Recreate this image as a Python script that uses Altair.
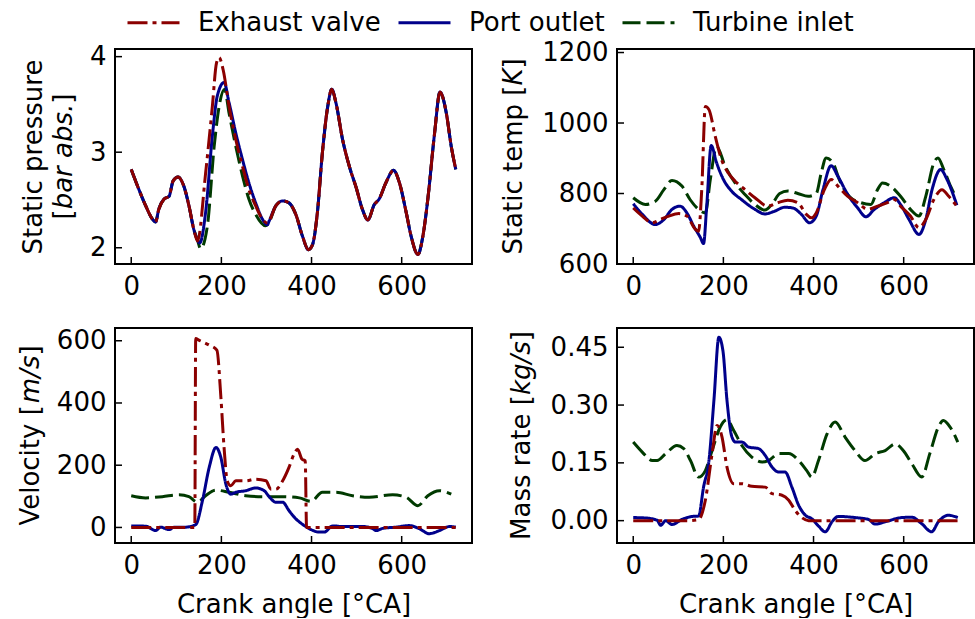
import altair as alt
import pandas as pd

SERIES = ["Exhaust valve", "Port outlet", "Turbine inlet"]
COLORS = ["#8b0000", "#00008b", "#003a00"]
DASHES = [[20, 5, 4, 5], [1, 0], [18, 6]]

X_TICKS = [0, 200, 400, 600]

# ---------------- Static pressure [bar abs.] ----------------
p_ev_x = [0, 17, 32, 47, 54, 61, 73, 84, 93, 104, 117, 128, 139, 147, 165, 180, 189, 195, 204, 217, 232, 247, 261, 276, 291, 302,
          306, 321, 336, 350, 365, 380, 393, 402, 413, 424, 436, 445, 454, 469, 484, 499, 513, 525, 539, 550, 565, 582, 595, 610, 621, 636, 647, 658, 673, 685, 699, 710, 720]
p_ev_y = [2.82, 2.61, 2.44, 2.30, 2.27, 2.40, 2.51, 2.54, 2.70, 2.74, 2.64, 2.44, 2.19, 2.07, 2.78, 3.48, 3.93, 3.99, 3.86, 3.48, 3.13, 2.85, 2.61, 2.44, 2.30, 2.26,
          2.28, 2.44, 2.49, 2.47, 2.35, 2.12, 1.98, 2.03, 2.37, 2.99, 3.48, 3.66, 3.52, 3.13, 2.85, 2.63, 2.40, 2.29, 2.45, 2.51, 2.68, 2.81, 2.68, 2.37, 2.12, 1.93, 2.12, 2.51, 3.20, 3.63, 3.41, 3.06, 2.82]
p_po_x = [0, 17, 32, 47, 54, 61, 73, 84, 93, 104, 117, 128, 139, 147, 152, 165, 180, 191, 206, 217, 232, 247, 261, 276, 291, 302,
          306, 321, 336, 350, 365, 380, 393, 402, 413, 424, 436, 445, 454, 469, 484, 499, 513, 525, 539, 550, 565, 582, 595, 610, 621, 636, 647, 658, 673, 685, 699, 710, 720]
p_po_y = [2.82, 2.61, 2.44, 2.30, 2.27, 2.40, 2.51, 2.54, 2.70, 2.74, 2.64, 2.44, 2.19, 2.08, 2.05, 2.37, 3.17, 3.59, 3.73, 3.52, 3.20, 2.92, 2.68, 2.47, 2.30, 2.24,
          2.28, 2.44, 2.49, 2.47, 2.35, 2.12, 1.98, 2.03, 2.37, 2.99, 3.48, 3.66, 3.52, 3.13, 2.85, 2.63, 2.40, 2.29, 2.45, 2.51, 2.68, 2.81, 2.68, 2.37, 2.12, 1.93, 2.12, 2.51, 3.20, 3.63, 3.41, 3.06, 2.82]
p_ti_x = [0, 17, 32, 47, 54, 61, 73, 84, 93, 104, 117, 128, 139, 147, 154, 169, 184, 195, 207, 217, 232, 247, 261, 276, 298,
          306, 321, 336, 350, 365, 380, 393, 402, 413, 424, 436, 445, 454, 469, 484, 499, 513, 525, 539, 550, 565, 582, 595, 610, 621, 636, 647, 658, 673, 685, 699, 710, 720]
p_ti_y = [2.82, 2.61, 2.44, 2.30, 2.27, 2.40, 2.51, 2.54, 2.70, 2.74, 2.64, 2.44, 2.19, 2.08, 1.99, 2.23, 3.06, 3.48, 3.66, 3.41, 3.06, 2.75, 2.51, 2.35, 2.23,
          2.27, 2.44, 2.49, 2.47, 2.35, 2.12, 1.98, 2.03, 2.37, 2.99, 3.48, 3.66, 3.52, 3.13, 2.85, 2.63, 2.40, 2.29, 2.45, 2.51, 2.68, 2.81, 2.68, 2.37, 2.12, 1.93, 2.12, 2.51, 3.20, 3.63, 3.41, 3.06, 2.82]

# ---------------- Static temp [K] ----------------
t_ev_x = [0, 20, 42, 60, 79, 101, 119, 138, 145, 152, 160, 168, 182, 196, 211, 226, 248, 270, 299, 321, 343, 365, 384, 395, 406, 424, 439, 454, 476, 498, 520, 542, 564, 579, 593, 615, 634, 649, 667, 685, 700, 718]
t_ev_y = [759, 736, 717, 726, 736, 743, 736, 698, 693, 811, 1047, 1038, 962, 896, 858, 835, 811, 788, 764, 774, 781, 774, 741, 731, 745, 811, 840, 821, 792, 774, 755, 764, 774, 783, 764, 736, 703, 726, 783, 811, 792, 764]
t_po_x = [0, 20, 49, 68, 86, 104, 119, 134, 149, 156, 163, 173, 185, 200, 218, 240, 270, 292, 314, 336, 354, 373, 391, 406, 421, 439, 454, 476, 498, 516, 535, 557, 579, 593, 612, 634, 649, 663, 682, 696, 718]
t_po_y = [771, 741, 712, 726, 755, 764, 745, 708, 675, 658, 764, 936, 887, 840, 807, 783, 755, 742, 750, 761, 759, 741, 717, 736, 811, 879, 849, 797, 759, 734, 755, 774, 788, 769, 726, 684, 726, 811, 868, 840, 767]
t_ti_x = [0, 27, 49, 68, 86, 108, 126, 145, 160, 171, 185, 204, 226, 248, 270, 292, 310, 325, 343, 365, 388, 406, 417, 428, 443, 457, 479, 505, 527, 542, 553, 571, 593, 615, 634, 649, 667, 676, 689, 704, 715]
t_ti_y = [788, 769, 778, 811, 837, 821, 783, 755, 745, 840, 934, 877, 830, 797, 769, 753, 774, 800, 807, 800, 792, 800, 858, 901, 887, 840, 792, 774, 769, 811, 830, 821, 792, 755, 736, 792, 887, 901, 868, 821, 792]

# ---------------- Velocity [m/s] ----------------
v_ev_x = [0, 60, 120, 141, 143, 150, 173, 190, 199, 206, 213, 221, 232, 254, 276, 299, 310, 321, 336, 350, 361, 369, 379, 386, 389, 450, 550, 650, 720]
v_ev_y = [0, 0, 0, 0, 607, 602, 586, 570, 416, 256, 150, 134, 150, 150, 155, 150, 123, 123, 150, 193, 235, 251, 219, 214, 0, 0, 0, 0, 0]
v_po_x = [0, 32, 54, 65, 84, 95, 121, 143, 158, 173, 188, 199, 210, 221, 232, 254, 276, 295, 306, 321, 336, 350, 365, 380, 399, 417, 428, 447, 469, 513, 536, 543, 558, 587, 617, 639, 661, 684, 706, 720]
v_po_y = [5, 4, -10, 1, -7, 1, 1, 9, 86, 193, 257, 224, 139, 107, 113, 118, 127, 118, 99, 81, 81, 54, 28, 10, -7, -15, -15, 5, 3, 3, -4, -10, -3, 1, 6, -4, -20, -10, 3, 1]
v_ti_x = [0, 32, 69, 106, 128, 147, 165, 187, 217, 254, 291, 336, 373, 399, 424, 454, 491, 528, 580, 610, 636, 658, 684, 710]
v_ti_y = [102, 95, 99, 105, 99, 81, 102, 120, 113, 102, 99, 99, 95, 84, 113, 113, 102, 97, 105, 97, 70, 102, 118, 107]

# ---------------- Mass rate [kg/s] ----------------
m_ev_x = [0, 60, 120, 145, 160, 175, 186, 197, 208, 223, 241, 263, 293, 308, 330, 345, 359, 374, 389, 450, 550, 650, 720]
m_ev_y = [0, 0, 0, 0.003, 0.053, 0.174, 0.247, 0.217, 0.139, 0.096, 0.096, 0.089, 0.087, 0.070, 0.066, 0.053, 0.027, 0.008, 0, 0, 0, 0, 0]
m_po_x = [0, 27, 53, 61, 72, 86, 108, 131, 145, 156, 168, 179, 190, 199, 208, 219, 227, 241, 256, 278, 293, 308, 323, 337, 352, 367, 382, 396, 411, 426, 441, 455, 492, 522, 537, 559, 596, 618, 640, 662, 677, 699, 720]
m_po_y = [0.008, 0.007, 0.001, -0.012, 0.0, -0.01, 0.003, 0.011, 0.012, 0.087, 0.156, 0.312, 0.476, 0.441, 0.312, 0.217, 0.204, 0.204, 0.191, 0.187, 0.169, 0.139, 0.126, 0.126, 0.087, 0.040, 0.014, 0.005, -0.014, -0.029, -0.003, 0.011, 0.008, 0.003, -0.009, -0.003, 0.008, 0.009, -0.008, -0.029, -0.003, 0.014, 0.008]
m_ti_x = [0, 20, 42, 53, 72, 97, 112, 127, 145, 160, 175, 193, 208, 223, 241, 263, 286, 300, 323, 345, 367, 385, 396, 411, 430, 448, 470, 492, 514, 537, 559, 581, 599, 618, 640, 658, 677, 688, 703, 720]
m_ti_y = [0.204, 0.178, 0.156, 0.156, 0.174, 0.195, 0.187, 0.156, 0.113, 0.130, 0.182, 0.243, 0.262, 0.234, 0.195, 0.165, 0.152, 0.156, 0.174, 0.174, 0.156, 0.130, 0.113, 0.156, 0.225, 0.256, 0.217, 0.182, 0.156, 0.174, 0.182, 0.199, 0.182, 0.148, 0.113, 0.174, 0.243, 0.260, 0.243, 0.204]

# y-axis titles: (text, italic) segments per line
TITLE_P = [[("Static pressure", False)], [("[", False), ("bar abs.", True), ("]", False)]]
TITLE_T = [[("Static temp [", False), ("K", True), ("]", False)]]
TITLE_V = [[("Velocity [", False), ("m/s", True), ("]", False)]]
TITLE_M = [[("Mass rate [", False), ("kg/s", True), ("]", False)]]

W, H = 357, 215
TICK_LEN = 7
FS = 26
LABEL_PAD = 9
LINE_H = 30

# DejaVu Sans advance widths (per 1000 em), used only to place title pieces
ADV = {" ": 318, ".": 318, "/": 337, "[": 390, "]": 390, "a": 613, "b": 635, "c": 550, "e": 615,
       "g": 635, "i": 278, "k": 579, "l": 278, "m": 974, "o": 612, "p": 635, "r": 411, "s": 521,
       "t": 392, "y": 592, "u": 634, "K": 656, "M": 863, "S": 635, "V": 684}
DIGIT = 636


def text_w(s):
    return sum(ADV.get(c, DIGIT) for c in s) * FS / 1000.0


legend = alt.Legend(
    orient="none", legendX=11, legendY=-54, direction="horizontal", title=None,
    symbolType="stroke", symbolSize=2704, symbolStrokeWidth=3,
    labelFontSize=FS, labelFont="DejaVu Sans", labelColor="black", labelOffset=17,
    columnPadding=11, labelLimit=0, padding=0,
)


def frame(ev, po, ti):
    rows = []
    for name, (xs, ys) in (("Turbine inlet", ti), ("Port outlet", po), ("Exhaust valve", ev)):
        for a, v in zip(xs, ys):
            rows.append({"angle": a, "value": v, "series": name})
    return pd.DataFrame(rows)


def title_layers(lines, x_anchor):
    out = []
    n = len(lines)
    for li, segs in enumerate(lines):
        x = x_anchor - (n - 1 - li) * LINE_H
        total = sum(text_w(t) for t, _ in segs)
        pos = H / 2 + total / 2
        for t, ital in segs:
            out.append(
                alt.Chart(pd.DataFrame({"t": [t]})).mark_text(
                    angle=270, align="left", baseline="bottom", font="DejaVu Sans",
                    fontSize=FS, fontStyle="italic" if ital else "normal", color="black",
                ).encode(text="t:N", x=alt.value(x), y=alt.value(pos))
            )
            pos -= text_w(t)
    return out


def panel(df, ydomain, yticks, title, yfmt, xtitle, title_pad):
    xenc = alt.X("angle:Q", scale=alt.Scale(domain=[-36, 756], nice=False, zero=False),
                 axis=alt.Axis(values=X_TICKS, title=xtitle, format="d"))
    yenc = alt.Y("value:Q", scale=alt.Scale(domain=ydomain, nice=False, zero=False),
                 axis=alt.Axis(values=yticks, title=None, format=yfmt))
    lines = alt.Chart(df).mark_line(strokeWidth=3, interpolate="monotone", clip=True).encode(
        x=xenc, y=yenc,
        color=alt.Color("series:N", scale=alt.Scale(domain=SERIES, range=COLORS), legend=legend),
        strokeDash=alt.StrokeDash("series:N", scale=alt.Scale(domain=SERIES, range=DASHES), legend=legend),
    )
    yt = alt.Chart(pd.DataFrame({"value": yticks})).mark_rule(color="black", strokeWidth=1.5).encode(
        y=yenc, x=alt.value(0), x2=alt.value(TICK_LEN))
    xt = alt.Chart(pd.DataFrame({"angle": X_TICKS})).mark_rule(color="black", strokeWidth=1.5).encode(
        x=xenc, y=alt.value(H), y2=alt.value(H - TICK_LEN))
    fmt = (lambda v: f"{v:.2f}") if yfmt == ".2f" else (lambda v: f"{int(v)}")
    label_w = max(text_w(fmt(v)) for v in yticks)
    x_anchor = -(label_w + LABEL_PAD + title_pad)
    return alt.layer(lines, yt, xt, *title_layers(title, x_anchor)).properties(width=W, height=H)


tl = panel(frame((p_ev_x, p_ev_y), (p_po_x, p_po_y), (p_ti_x, p_ti_y)),
           [1.83, 4.08], [2, 3, 4], TITLE_P, "d", None, 12)
tr = panel(frame((t_ev_x, t_ev_y), (t_po_x, t_po_y), (t_ti_x, t_ti_y)),
           [600, 1210], [600, 800, 1000, 1200], TITLE_T, "d", None, 15)
bl = panel(frame((v_ev_x, v_ev_y), (v_po_x, v_po_y), (v_ti_x, v_ti_y)),
           [-50, 641], [0, 200, 400, 600], TITLE_V, "d", "Crank angle [°CA]", 12)
br = panel(frame((m_ev_x, m_ev_y), (m_po_x, m_po_y), (m_ti_x, m_ti_y)),
           [-0.058, 0.50], [0, 0.15, 0.30, 0.45], TITLE_M, ".2f", "Crank angle [°CA]", 15)

chart = alt.concat(tl, tr, bl, br, columns=2, spacing={"row": 64, "column": 145}, bounds="flush").resolve_scale(
    color="shared", strokeDash="shared"
).properties(
    padding={"left": 17, "top": -5, "right": 0, "bottom": 0},
    background="white",
).configure_view(
    stroke="black", strokeWidth=2
).configure_axis(
    labelFont="DejaVu Sans", labelFontSize=FS, labelColor="black",
    titleFont="DejaVu Sans", titleFontSize=FS, titleFontWeight="normal", titleColor="black",
    domain=False, ticks=False, tickSize=0, grid=False, labelPadding=LABEL_PAD, minExtent=0,
).configure_axisX(titlePadding=13)

chart.save("out.html", embed_options={"renderer": "svg", "actions": False})
